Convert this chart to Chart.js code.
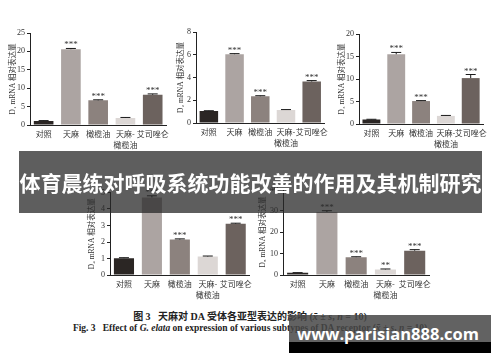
<!DOCTYPE html>
<html>
<head>
<meta charset="utf-8">
<script src="https://cdn.jsdelivr.net/npm/chart.js@4.4.0/dist/chart.umd.min.js"></script>
<style>
  body { margin: 0; background: #fff; }
  #page { position: relative; width: 500px; height: 362px; overflow: hidden; background: #fff; }
  canvas { position: absolute; }
  #banner {
    position: absolute; left: 19px; top: 151px; width: 463px; height: 62px;
    background: rgba(40, 40, 40, 0.75);
    color: #fff; font-family: "Noto Sans CJK SC"; font-weight: 700; font-size: 21px;
    line-height: 62px; text-align: center; letter-spacing: 0px; white-space: nowrap;
  }
  .cap { position: absolute; left: 0; width: 500px; text-align: center; white-space: nowrap; color: #222; }
  #cap1 { top: 308px; font-family: "Liberation Serif", "Noto Sans CJK SC"; font-size: 10px; font-weight: 700; }
  #cap2 { top: 323px; font-family: "Liberation Serif"; font-size: 9.5px; font-weight: 700; }
  #wm1 { position: absolute; left: 289px; top: 315px; width: 202px; height: 27px; background: rgba(70, 70, 70, 0.85); }
  #wm2 { position: absolute; left: 289px; top: 342px; width: 202px; height: 11px; background: #000; }
  #wmText {
    position: absolute; left: 287px; top: 322px; width: 202px; text-align: center;
    color: #fff; font-family: "Open Sans"; font-weight: 700; font-size: 16.5px; line-height: 24px;
  }
</style>
</head>
<body>
<div id="page">
  <canvas id="d1" width="172" height="130"></canvas>
  <canvas id="d2" width="166" height="130"></canvas>
  <canvas id="d3" width="160" height="130"></canvas>
  <canvas id="d4" width="175" height="120"></canvas>
  <canvas id="d5" width="179" height="123"></canvas>
  <div id="banner">体育晨练对呼吸系统功能改善的作用及其机制研究</div>
  <div class="cap" id="cap1">图 3&nbsp;&nbsp;&nbsp;天麻对 DA 受体各亚型表达的影响 (<i>x̄</i> ± <i>s</i>, <i>n</i> = 10)</div>
  <div class="cap" id="cap2">Fig. 3&nbsp;&nbsp;&nbsp;Effect of <i>G. elata</i> on expression of various subtypes of DA receptor (<i>x̄</i> ± <i>s</i>, <i>n</i> = 10)</div>
  <div id="wm1"></div>
  <div id="wm2"></div>
  <div id="wmText">www.parisian888.com</div>
</div>
<script>
// 분류
const categories = ['对照', '天麻', '橄榄油', ['天麻-', '橄榄油'], '艾司唑仑'];
const barColors = ['#2b2624', '#aca4a2', '#8c827e', '#dcd7d5', '#6c625e'];

// D1 ~ D5 값
const d1Values = [1.1, 20.6, 6.7, 1.9, 8.2];
const d1Errors = [0.1, 0.2, 0.15, 0.15, 0.25];
const d1Stars = ['', '***', '***', '', '***'];

const d2Values = [1.05, 6.05, 2.35, 1.15, 3.65];
const d2Errors = [0.03, 0.05, 0.05, 0.03, 0.08];
const d2Stars = ['', '***', '***', '', '***'];

const d3Values = [1.0, 15.5, 5.1, 1.8, 10.2];
const d3Errors = [0.05, 0.4, 0.1, 0.1, 0.8];
const d3Stars = ['', '***', '***', '', '***'];

const d4Values = [1.02, 4.7, 2.15, 1.12, 3.1];
const d4Errors = [0.03, 0.1, 0.04, 0.03, 0.04];
const d4Stars = ['', '***', '***', '', '***'];

const d5Values = [1.0, 29.3, 8.3, 2.6, 11.3];
const d5Errors = [0.1, 0.6, 0.2, 0.2, 0.5];
const d5Stars = ['', '***', '***', '**', '***'];

// 축 눈금
const d1Ticks = [0, 25, 5];
const d2Ticks = [0, 8, 2];
const d3Ticks = [0, 20, 5];
const d4Ticks = [0, 5, 1];
const d5Ticks = [0, 40, 10];

// 오차 막대 + 별표
const errorPlugin = {
    id: 'errorStars',
    afterDatasetsDraw(chart, args, opts) {
        const ctx = chart.ctx;
        const y = chart.scales.y;
        const meta = chart.getDatasetMeta(0);
        const values = chart.data.datasets[0].data;
        ctx.save();
        meta.data.forEach(function(bar, i) {
            const cx = bar.x;
            const base = y.getPixelForValue(values[i]);
            const top = y.getPixelForValue(values[i] + opts.errors[i]);
            ctx.strokeStyle = '#1a1a1a';
            ctx.lineWidth = 1;
            ctx.beginPath();
            ctx.moveTo(cx, base);
            ctx.lineTo(cx, top);
            ctx.moveTo(cx - 5, top);
            ctx.lineTo(cx + 5, top);
            ctx.stroke();
            if (opts.stars[i]) {
                ctx.fillStyle = '#333';
                ctx.font = '9px "Liberation Serif"';
                ctx.textAlign = 'center';
                ctx.textBaseline = 'alphabetic';
                ctx.fillText(opts.stars[i], cx, top - 1);
            }
        });
        ctx.restore();
    }
};

function makeChart(id, values, errors, stars, ticks, title, box) {
    const el = document.getElementById(id);
    el.style.left = box.left + 'px';
    el.style.top = box.top + 'px';
    return new Chart(el.getContext('2d'), {
        type: 'bar',
        data: {
            labels: categories,
            datasets: [{
                data: values,
                backgroundColor: barColors,
                borderWidth: 0,
                categoryPercentage: 0.72,
                barPercentage: 1
            }]
        },
        options: {
            responsive: false,
            animation: false,
            layout: { padding: { top: box.padTop, right: box.padRight, left: 0, bottom: 0 } },
            plugins: {
                legend: { display: false },
                tooltip: { enabled: false },
                errorStars: { errors: errors, stars: stars }
            },
            scales: {
                x: {
                    grid: { display: false, drawTicks: false },
                    border: { display: true, color: '#222', width: 1 },
                    ticks: {
                        autoSkip: false, maxRotation: 0, minRotation: 0, padding: 3,
                        color: '#333',
                        font: { family: '"Noto Sans CJK SC"', size: 8, lineHeight: 1.45 }
                    },
                    afterFit: function(s) { s.height = box.xHeight; }
                },
                y: {
                    min: ticks[0], max: ticks[1],
                    grid: { drawOnChartArea: false, drawTicks: true, tickLength: 3, color: '#222' },
                    border: { display: true, color: '#222', width: 1 },
                    ticks: {
                        stepSize: ticks[2], padding: 2, color: '#333',
                        font: { family: '"Liberation Serif"', size: 8 }
                    },
                    title: {
                        display: true, text: title, color: '#333',
                        padding: { top: box.titlePad, bottom: 0 },
                        font: { family: '"Liberation Serif", "DejaVu Serif", "Noto Sans CJK SC"', size: 7.5 }
                    },
                    afterFit: function(s) { s.width = box.yWidth; }
                }
            }
        },
        plugins: [errorPlugin]
    });
}

makeChart('d1', d1Values, d1Errors, d1Stars, d1Ticks, 'D₁ mRNA 相对表达量',
    { left: 0, top: 25, padTop: 8, padRight: 3, xHeight: 30, yWidth: 30, titlePad: 8.5 });
makeChart('d2', d2Values, d2Errors, d2Stars, d2Ticks, 'D₂ mRNA 相对表达量',
    { left: 165, top: 24, padTop: 8, padRight: 3, xHeight: 31, yWidth: 31, titlePad: 11.5 });
makeChart('d3', d3Values, d3Errors, d3Stars, d3Ticks, 'D₃ mRNA 相对表达量',
    { left: 330, top: 26, padTop: 8, padRight: 3, xHeight: 32, yWidth: 29, titlePad: 7.5 });
makeChart('d4', d4Values, d4Errors, d4Stars, d4Ticks, 'D₄ mRNA 相对表达量',
    { left: 80, top: 184, padTop: 8.5, padRight: 3, xHeight: 29, yWidth: 30, titlePad: 7.5 });
makeChart('d5', d5Values, d5Errors, d5Stars, d5Ticks, 'D₅ mRNA 相对表达量',
    { left: 255, top: 181, padTop: 8, padRight: 3, xHeight: 29, yWidth: 28, titlePad: 3.5 });
</script>
</body>
</html>
